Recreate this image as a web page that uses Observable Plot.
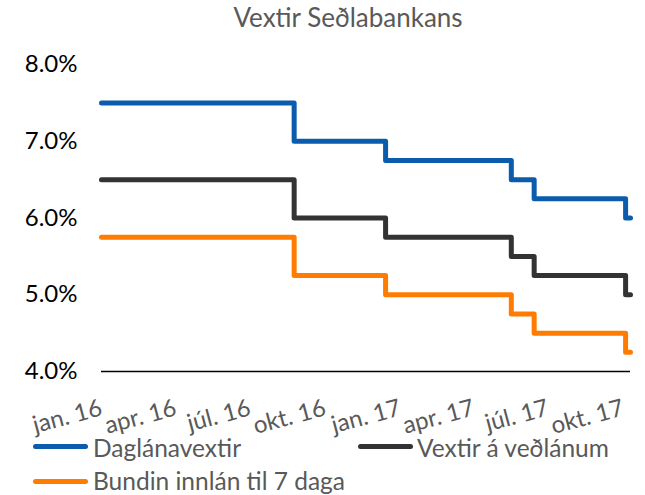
<!DOCTYPE html>
<html><head><meta charset="utf-8">
<script src="https://cdn.jsdelivr.net/npm/d3@7"></script>
<script src="https://cdn.jsdelivr.net/npm/@observablehq/plot@0.6"></script>
<style>
body{margin:0;background:#fff;}
#wrap{position:relative;width:645px;height:495px;font-family:Lato,sans-serif;overflow:hidden;}
#title{position:absolute;top:2px;left:348px;transform:translateX(-50%);font-size:26px;color:#595959;white-space:nowrap;line-height:30px;}
.lg{position:absolute;font-size:24.5px;line-height:24px;color:#595959;white-space:nowrap;}
.sw{position:absolute;width:55px;height:5px;border-radius:3px;}
#chart{position:absolute;left:0;top:0;}
</style></head><body>
<div id="wrap">
  <div id="chart"></div>
  <div id="title">Vextir Seðlabankans</div>
</div>
<script>
// Dates on which rates changed (plus the last date shown)
const changeDates = ["2016-01-01","2016-08-24","2016-12-14","2017-05-17","2017-06-14","2017-10-04","2017-10-10"];
const seriesNames = ["Daglánavextir","Vextir á veðlánum","Bundin innlán til 7 daga"];
const seriesColors = ["#0B5CAD","#333333","#FF7C00"];
const dagLanavextir = [7.5,7.0,6.75,6.5,6.25,6.0,6.0];
const vextirVedlanum = [6.5,6.0,5.75,5.5,5.25,5.0,5.0];
const bundinInnlan = [5.75,5.25,5.0,4.75,4.5,4.25,4.25];
const xTickDates = ["2016-01-01","2016-04-01","2016-07-01","2016-10-01","2017-01-01","2017-04-01","2017-07-01","2017-10-01"];
const xTickLabels = ["jan. 16","apr. 16","júl. 16","okt. 16","jan. 17","apr. 17","júl. 17","okt. 17"];
const yTicks = [4,5,6,7,8];

const valueSets = [dagLanavextir, vextirVedlanum, bundinInnlan];
const rows = [];
valueSets.forEach((vals, s) => vals.forEach((v, i) => rows.push({date: new Date(changeDates[i]), value: v, series: seriesNames[s]})));

const chart = Plot.plot({
  width: 645, height: 495,
  marginLeft: 101, marginRight: 15, marginTop: 64, marginBottom: 124,
  style: {fontFamily: "Lato, sans-serif", background: "transparent"},
  x: {type: "utc", domain: [new Date(changeDates[0]), new Date(changeDates[changeDates.length-1])], axis: null, label: null},
  y: {domain: [4, 8], axis: null, label: null},
  color: {domain: seriesNames, range: seriesColors},
  marks: [
    Plot.axisY({ticks: yTicks, label: null, tickSize: 0, tickPadding: 24, tickFormat: d => d.toFixed(1) + "%", fontSize: 24, fill: "#000"}),
    Plot.axisX({ticks: xTickDates.map(d => new Date(d)), label: null, tickFormat: (d, i) => xTickLabels[i], tickRotate: -15, tickSize: 0, tickPadding: 36, textAnchor: "end", lineAnchor: "middle", fontSize: 24, fill: "#595959"}),
    Plot.ruleY([4], {stroke: "#000", strokeWidth: 1.5}),
    Plot.line(rows, {x: "date", y: "value", z: "series", stroke: "series", curve: "step-after", strokeWidth: 5, strokeLinejoin: "round", strokeLinecap: "round"})
  ]
});
document.getElementById("chart").appendChild(chart);

// legend
const wrap = document.getElementById("wrap");
const legendPos = [
  {sx: 33, sy: 444, tx: 93, ty: 436},
  {sx: 358, sy: 444, tx: 417, ty: 436},
  {sx: 33, sy: 479, tx: 93, ty: 469}
];
seriesNames.forEach((name, i) => {
  const p = legendPos[i];
  const sw = document.createElement("div");
  sw.className = "sw"; sw.style.left = p.sx + "px"; sw.style.top = p.sy + "px"; sw.style.background = seriesColors[i];
  const t = document.createElement("div");
  t.className = "lg"; t.style.left = p.tx + "px"; t.style.top = p.ty + "px"; t.textContent = name;
  wrap.appendChild(sw); wrap.appendChild(t);
});
</script>
</body></html>
